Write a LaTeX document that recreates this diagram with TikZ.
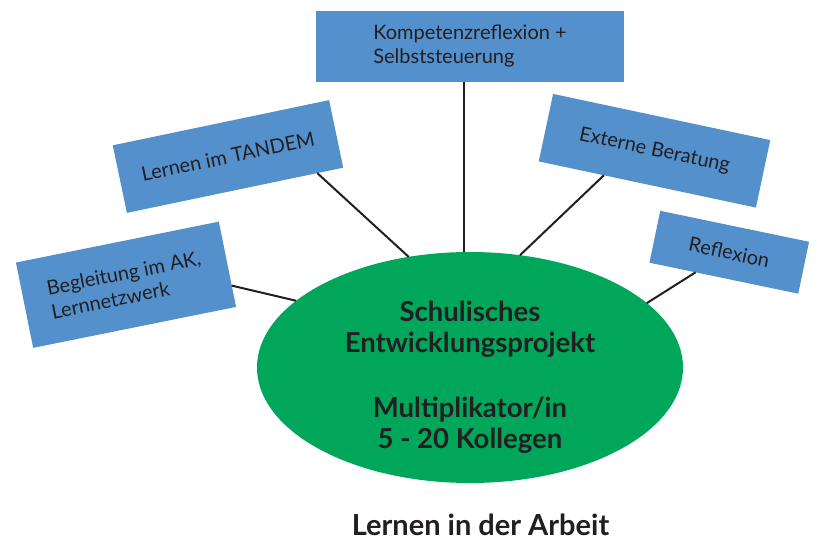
\documentclass[tikz,border=0pt]{standalone}
\usepackage{fontspec}
\setmainfont{Lato}
\usetikzlibrary{shapes.geometric, calc}

\definecolor{boxblue}{HTML}{5390CC}
\definecolor{hubgreen}{HTML}{00A65A}
\definecolor{inkdark}{HTML}{231F20}

\begin{document}
\begin{tikzpicture}[x=1pt, y=-1pt,
  every node/.style={text=inkdark, inner sep=0pt, outer sep=0pt},
  topic/.style={fill=boxblue, rectangle, align=left, font=\fontsize{20}{24}\selectfont},
  hub/.style={fill=hubgreen, ellipse, minimum width=426pt, minimum height=231pt},
  hubtext/.style={align=center, font=\fontsize{27.5}{31}\selectfont\bfseries},
  link/.style={draw=inkdark, line width=2pt}]

    \useasboundingbox (0,0) rectangle (817,540);

    % Center node
    \node[hub] (ell) at (470,367.5) {};
    \node[hubtext] (ellText) at (470,377) {Schulisches\\Entwicklungsprojekt\\[34pt]Multiplikator/in\\5 - 20 Kollegen};

    % Surrounding boxes
    \node[topic, minimum width=308pt, minimum height=71pt] (kompetenz) at (470,46.5) {Kompetenzreflexion +\\Selbststeuerung};
    \node[topic, minimum width=221pt, minimum height=69pt, rotate=11.8] (tandem) at (228,156.5) {Lernen im TANDEM};
    \node[topic, minimum width=207pt, minimum height=87pt, rotate=11.4] (begleit) at (126,284.75) {Begleitung im AK,\\Lernnetzwerk};
    \node[topic, minimum width=222pt, minimum height=69pt, rotate=-12] (extern) at (654.5,150.75) {Externe Beratung};
    \node[topic, minimum width=152pt, minimum height=53pt, rotate=-11.75] (reflex) at (729.25,252.25) {Reflexion};

    % Connectors from each box to the center
    \draw[link] ([xshift=-6pt]kompetenz.south) -- ([xshift=-6pt]ell.north);
    \draw[link] ($(tandem.south west)!0.88!(tandem.south east)$) -- (ell.119);
    \draw[link] ($(begleit.north east)!0.75!(begleit.south east)$) -- (ell.159.3);
    \draw[link] ($(extern.south west)!0.3!(extern.south east)$) -- (ell.66.5);
    \draw[link] ($(reflex.south west)!0.31!(reflex.south east)$) -- (ell.20.1);

    % Caption
    \node[anchor=base, font=\fontsize{29}{32}\selectfont\bfseries] (caption) at (480.5,535) {Lernen in der Arbeit};

\end{tikzpicture}
\end{document}
